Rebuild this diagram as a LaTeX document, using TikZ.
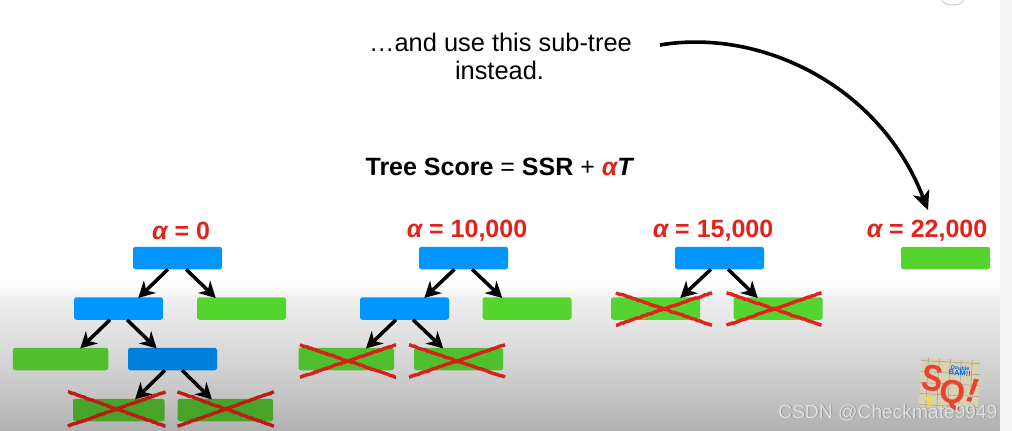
\documentclass[tikz,border=0pt]{standalone}
\usepackage{fontspec}
\setmainfont{Liberation Sans}
\usetikzlibrary{arrows.meta,decorations.pathmorphing,calc}
\definecolor{bluetop}{HTML}{0096FF}
\definecolor{bluelow}{HTML}{0080DC}
\definecolor{greentop}{HTML}{55D42F}
\definecolor{greenmid}{HTML}{50BF2E}
\definecolor{greenlow}{HTML}{46A528}
\definecolor{alphared}{HTML}{E3231B}
\definecolor{redmid}{HTML}{D6201A}
\definecolor{redlow}{HTML}{BD1C14}
\definecolor{bga}{HTML}{B0B0B0}
\definecolor{bgb}{HTML}{C2C2C2}
\definecolor{bgc}{HTML}{DCDCDC}
\definecolor{bgd}{HTML}{EEEEEE}
\definecolor{bge}{HTML}{FFFFFF}
\definecolor{logotan}{HTML}{D9D2B0}
\definecolor{logored}{HTML}{E8432F}
\pgfdeclareverticalshading{slidebg}{100bp}{color(0bp)=(bga); color(25bp)=(bga); color(35.5bp)=(bgb); color(54.5bp)=(bgc); color(70bp)=(bgd); color(75bp)=(bge); color(100bp)=(bge)}
\tikzset{
  x=1pt,y=-1pt,
  box/.style={rounded corners=2.5pt,minimum height=22.5pt,inner sep=0pt,outer sep=0pt,anchor=center},
  wide/.style={minimum width=89pt},
  wider/.style={minimum width=95.5pt},
  widest/.style={minimum width=91.5pt},
  conn/.style={line width=3.5pt,draw=black,-{Stealth[length=16pt,width=17pt,inset=5pt]},shorten >=-1pt},
  crossline/.style={line width=3.4pt,decorate,decoration={random steps,segment length=2pt,amplitude=.4pt}},
  alab/.style={font=\fontsize{25}{28}\selectfont\bfseries,text=alphared,inner sep=0pt},
  say/.style={font=\fontsize{25.4}{28}\selectfont,inner sep=0pt,align=center}
}
\newcommand{\alphaglyph}{{\itshape α}}
\begin{document}
\begin{tikzpicture}
\useasboundingbox (0,0) rectangle (1012,431);
\fill[white] (0,0) rectangle (1012,431);
\shade[shading=slidebg] (0,285) rectangle (1000,431);
\fill[black!4] (1000,0) rectangle (1012,431);
\draw[black!20,line width=1pt] (942,0) arc[start angle=180,end angle=360,radius=11pt,y radius=5pt];

% headings
\node[say] (say1) at (500.5,42) {…and use this sub-tree};
\node[say] (say2) at (499.5,70) {instead.};
\node[font=\fontsize{25}{28}\selectfont,inner sep=0pt] (score) at (500,167) {\textbf{Tree Score} = \textbf{SSR} + \textbf{\textcolor{alphared}{\alphaglyph}\itshape T}};

% alpha labels
\node[alab] (l1) at (181,231) {\alphaglyph{} = 0};
\node[alab] (l2) at (467,231) {\alphaglyph{} = 10,000};
\node[alab] (l3) at (713,231) {\alphaglyph{} = 15,000};
\node[alab] (l4) at (927,231) {\alphaglyph{} = 22,000};

% tree 1
\node[box,wide,fill=bluetop] (a0) at (177.5,258) {};
\node[box,wide,fill=bluetop] (a1) at (118.5,308.5) {};
\node[box,wide,fill=greentop] (a2) at (241.5,308.5) {};
\node[box,wider,fill=greenmid] (a3) at (60.5,359) {};
\node[box,wide,fill=bluelow] (a4) at (172.5,359) {};
\node[box,widest,fill=greenlow] (a5) at (118.75,410) {};
\node[box,wider,fill=greenlow] (a6) at (225.25,410) {};
\draw[conn] ([xshift=-9.5pt]a0.south) -- ([xshift=20.5pt]a1.north);
\draw[conn] ([xshift=8.5pt]a0.south) -- ([xshift=-26.5pt]a2.north);
\draw[conn] ([xshift=-8.5pt]a1.south) -- ([xshift=20.5pt]a3.north);
\draw[conn] ([xshift=8.5pt]a1.south) -- ([xshift=-16.5pt]a4.north);
\draw[conn] ([xshift=-7.5pt]a4.south) -- ([xshift=17pt]a5.north);
\draw[conn] ([xshift=9.5pt]a4.south) -- ([xshift=-14pt]a6.north);

% tree 2
\node[box,wide,fill=bluetop] (b0) at (463.5,258) {};
\node[box,wide,fill=bluetop] (b1) at (404.5,308.5) {};
\node[box,wide,fill=greentop] (b2) at (527,308.5) {};
\node[box,wider,fill=greenmid] (b3) at (346.25,359) {};
\node[box,wide,fill=greenmid] (b4) at (458.5,359) {};
\draw[conn] ([xshift=-9pt]b0.south) -- ([xshift=20.5pt]b1.north);
\draw[conn] ([xshift=8.5pt]b0.south) -- ([xshift=-25.5pt]b2.north);
\draw[conn] ([xshift=-8.5pt]b1.south) -- ([xshift=20.5pt]b3.north);
\draw[conn] ([xshift=8.5pt]b1.south) -- ([xshift=-16pt]b4.north);

% tree 3
\node[box,wide,fill=bluetop] (c0) at (719.5,258) {};
\node[box,wide,fill=greentop] (c1) at (655.5,308.5) {};
\node[box,wide,fill=greentop] (c2) at (778,308.5) {};
\draw[conn] ([xshift=-8.5pt]c0.south) -- ([xshift=25.5pt]c1.north);
\draw[conn] ([xshift=8.5pt]c0.south) -- ([xshift=-21pt]c2.north);

% tree 4
\node[box,wide,fill=greentop] (d0) at (945.5,258) {};

% crosses
\draw[crossline,draw=redlow] ([shift={(-5,-7)}]a5.north west) -- ([shift={(1,5)}]a5.south east);
\draw[crossline,draw=redlow] ([shift={(-5,5)}]a5.south west) -- ([shift={(1,-7)}]a5.north east);
\draw[crossline,draw=redlow] ([shift={(0,-7)}]a6.north west) -- ([shift={(1,5)}]a6.south east);
\draw[crossline,draw=redlow] ([shift={(0,5)}]a6.south west) -- ([shift={(1,-7)}]a6.north east);
\draw[crossline,draw=redmid] ([shift={(1.5,-3)}]b3.north west) -- ([shift={(2,7)}]b3.south east);
\draw[crossline,draw=redmid] ([shift={(1.5,7)}]b3.south west) -- ([shift={(2,-3)}]b3.north east);
\draw[crossline,draw=redmid] ([shift={(-5,-3)}]b4.north west) -- ([shift={(2,7)}]b4.south east);
\draw[crossline,draw=redmid] ([shift={(-5,7)}]b4.south west) -- ([shift={(2,-3)}]b4.north east);
\draw[crossline,draw=alphared] ([shift={(5,-4.5)}]c1.north west) -- ([shift={(12,5.5)}]c1.south east);
\draw[crossline,draw=alphared] ([shift={(5,5.5)}]c1.south west) -- ([shift={(12,-4.5)}]c1.north east);
\draw[crossline,draw=alphared] ([shift={(-7,-4.5)}]c2.north west) -- ([shift={(-1,5.5)}]c2.south east);
\draw[crossline,draw=alphared] ([shift={(-7,5.5)}]c2.south west) -- ([shift={(-1,-4.5)}]c2.north east);

% long arrow
\coordinate (bigstart) at (660,45);
\draw[line width=3.6pt,-{Stealth[length=19pt,width=17pt,inset=5pt]}] (bigstart) .. controls (760,28) and (880,85) .. ([shift={(-17.5,-36.5)}]d0.north);

% logo
\begin{scope}[shift={(949,384)},rotate=-3]
  \fill[logotan] (-29,-25) rectangle (30,24);
  \draw[black!40,line width=.5pt,step=11pt] (-29,-25) grid (30,24);
\end{scope}
\fill[yellow!85!orange] (925,397) rectangle (932,400);
\fill[yellow!85!orange] (927.5,400) rectangle (929.5,405);
\node[inner sep=0pt,rotate=-4,align=center,font=\fontsize{5.5}{6}\selectfont\bfseries,text=blue!60!cyan] (bam) at (960,371) {Double\\[-.5pt]{\fontsize{7.5}{7.5}\selectfont BAM!!}};
\node[inner sep=0pt,rotate=-8,font=\fontsize{37}{37}\selectfont\bfseries,text=logored,xscale=.85] (ss) at (932.5,378.5) {S};
\node[inner sep=0pt,rotate=-8,font=\fontsize{33}{33}\selectfont\bfseries,text=logored] (qq) at (952.5,395) {Q};
\node[inner sep=0pt,rotate=-8,font=\fontsize{34}{34}\selectfont\bfseries\itshape,text=logored] (ex) at (972.5,391) {!};

% watermark
\node[inner sep=0pt,font=\fontsize{19.2}{20}\selectfont,text=black!45] (wm2) at (888.8,413.3) {CSDN @Checkmate9949};
\node[inner sep=0pt,font=\fontsize{19.2}{20}\selectfont,text=white!88!black] (wm) at (888,412.5) {CSDN @Checkmate9949};
\end{tikzpicture}
\end{document}
